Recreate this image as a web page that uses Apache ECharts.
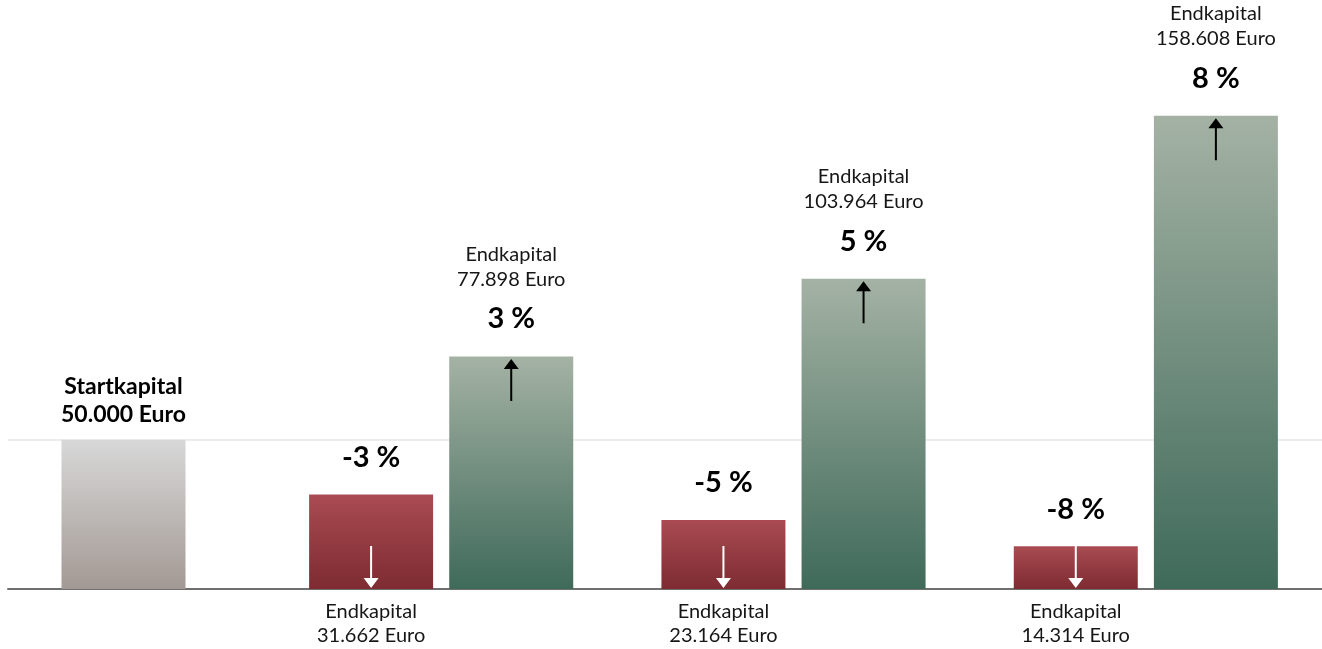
<!DOCTYPE html>
<html lang="de">
<head>
<meta charset="utf-8">
<title>Startkapital und Endkapital</title>
<script src="https://cdn.jsdelivr.net/npm/echarts@6/dist/echarts.min.js"></script>
<style>
  html, body { margin: 0; padding: 0; background: #ffffff; }
  #chart { width: 1322px; height: 649px; }
</style>
</head>
<body>
<div id="chart"></div>
<script>
// Starting capital and the end capital for each yearly rate (loss vs. gain)
const startLabel = 'Startkapital';
const startCapital = 50000;
const scenarios = ['3 %', '5 %', '8 %'];
const lossRates = [-3, -5, -8];
const lossEnd = [31662, 23164, 14314];
const gainRates = [3, 5, 8];
const gainEnd = [77898, 103964, 158608];
const yMax = 180000;
const refLevel = 50000;

const FONT = 'Lato, "Open Sans", "DejaVu Sans", sans-serif';
const TEXT = '#161616';

// German thousands separator
function euro(v) {
  return String(Math.round(v)).replace(/\B(?=(\d{3})+(?!\d))/g, '.') + ' Euro';
}
function pct(r) { return r + ' %'; }

function vGrad(top, bottom) {
  return new echarts.graphic.LinearGradient(0, 0, 0, 1, [
    { offset: 0, color: top },
    { offset: 1, color: bottom }
  ]);
}

const ARROW_UP = 'path://M7.5 0 L15 10 L8.5 10 L8.5 42 L6.5 42 L6.5 10 L0 10 Z';
const ARROW_DOWN = 'path://M6.5 0 L8.5 0 L8.5 32 L15 32 L7.5 42 L0 32 L6.5 32 Z';

const richStyles = {
  n: { fontFamily: FONT, fontSize: 20, lineHeight: 25, color: TEXT },
  b: { fontFamily: FONT, fontSize: 29, fontWeight: 'bold', lineHeight: 55, color: '#000' },
  s: { fontFamily: FONT, fontSize: 23, fontWeight: 'bold', lineHeight: 28, color: '#000' }
};

const GRID_TOP = 52, GRID_BOTTOM = 60;

const chart = echarts.init(document.getElementById('chart'), null, { renderer: 'canvas' });

const hiddenValueAxis = (gi) => ({
  type: 'value', gridIndex: gi, min: 0, max: yMax, show: false
});

chart.setOption({
  animation: false,
  backgroundColor: '#ffffff',
  grid: [
    // full-width frame: baseline and 50.000 reference line
    { left: 8, right: 0, top: GRID_TOP, bottom: GRID_BOTTOM },
    // starting capital
    { left: 0, width: 247, top: GRID_TOP, bottom: GRID_BOTTOM },
    // loss / gain pairs
    { left: 265, width: 1060, top: GRID_TOP, bottom: GRID_BOTTOM }
  ],
  xAxis: [
    {
      type: 'category', gridIndex: 0, data: [''],
      axisLine: { show: true, lineStyle: { color: '#6f6f6f', width: 2 } },
      axisTick: { show: false }, axisLabel: { show: false }, splitLine: { show: false }
    },
    { type: 'category', gridIndex: 1, data: [startLabel], show: false },
    { type: 'category', gridIndex: 2, data: scenarios, show: false }
  ],
  yAxis: [
    {
      type: 'value', gridIndex: 0, min: 0, max: yMax, interval: refLevel,
      axisLine: { show: false }, axisTick: { show: false }, axisLabel: { show: false },
      splitLine: {
        show: true,
        lineStyle: { width: 1.5, color: ['rgba(0,0,0,0)', '#e7e7e7', 'rgba(0,0,0,0)', 'rgba(0,0,0,0)', 'rgba(0,0,0,0)'] }
      }
    },
    hiddenValueAxis(1),
    hiddenValueAxis(2)
  ],
  series: [
    {
      name: startLabel,
      type: 'bar', xAxisIndex: 1, yAxisIndex: 1,
      barWidth: 124, clip: false,
      data: [startCapital],
      itemStyle: { color: vGrad('#d8d8d8', '#a39994') },
      label: {
        show: true, position: 'top', distance: 11,
        formatter: () => '{s|' + startLabel + '}\n{s|' + euro(startCapital) + '}',
        rich: richStyles
      }
    },
    {
      name: 'Verlust',
      type: 'bar', xAxisIndex: 2, yAxisIndex: 2,
      barWidth: 124, barGap: '13%', clip: false,
      data: lossEnd,
      itemStyle: { color: vGrad('#aa4b53', '#7d2b31') },
      label: {
        show: true, position: 'bottom', distance: 11,
        formatter: (p) => '{n|Endkapital}\n{n|' + euro(lossEnd[p.dataIndex]) + '}',
        rich: { n: { fontFamily: FONT, fontSize: 20, lineHeight: 24, color: TEXT } }
      },
      markPoint: {
        silent: true,
        data: lossEnd.flatMap((v, i) => [
          {
            coord: [i, 0], symbol: ARROW_DOWN, symbolSize: [15, 42], symbolOffset: [0, -22],
            itemStyle: { color: '#ffffff' }, label: { show: false }
          },
          {
            coord: [i, v], symbol: 'rect', symbolSize: 1,
            itemStyle: { color: 'rgba(0,0,0,0)' },
            label: {
              show: true, position: 'top', distance: 9,
              formatter: '{b|' + pct(lossRates[i]) + '}', rich: richStyles
            }
          }
        ])
      }
    },
    {
      name: 'Gewinn',
      type: 'bar', xAxisIndex: 2, yAxisIndex: 2,
      barWidth: 124, barGap: '13%', clip: false,
      data: gainEnd,
      itemStyle: { color: vGrad('#a4b2a4', '#3f6a5a') },
      label: {
        show: true, position: 'top', distance: 10,
        formatter: (p) => '{n|Endkapital}\n{n|' + euro(gainEnd[p.dataIndex]) + '}\n{b|' + pct(gainRates[p.dataIndex]) + '}',
        rich: richStyles
      },
      markPoint: {
        silent: true,
        data: gainEnd.map((v, i) => ({
          coord: [i, v], symbol: ARROW_UP, symbolSize: [15, 42], symbolOffset: [0, 23.5],
          itemStyle: { color: '#000000' }, label: { show: false }
        }))
      }
    }
  ]
});
</script>
</body>
</html>
